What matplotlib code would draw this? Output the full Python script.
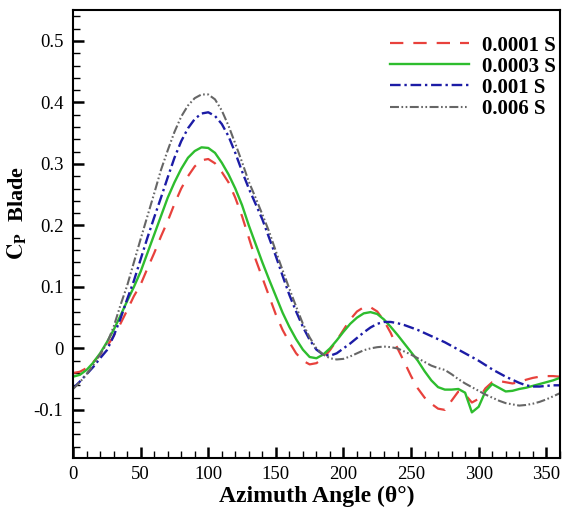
import numpy as np
import matplotlib
matplotlib.use("Agg")
import matplotlib.pyplot as plt
from matplotlib.ticker import MultipleLocator

plt.rcParams['font.family'] = ['Liberation Serif', 'DejaVu Serif']
plt.rcParams['mathtext.fontset'] = 'stix'

# azimuth angle (deg), every 5 degrees
theta = np.arange(0, 365, 5)

cp_0001 = [-0.040, -0.038, -0.032, -0.022, -0.010, 0.003, 0.020, 0.040, 0.062, 0.085,
           0.104, 0.130, 0.155, 0.182, 0.207, 0.235, 0.260, 0.280, 0.296, 0.306,
           0.308, 0.301, 0.287, 0.270, 0.245, 0.215, 0.180, 0.145, 0.115, 0.085,
           0.055, 0.030, 0.010, -0.008, -0.020, -0.026, -0.024, -0.016, -0.003, 0.013,
           0.030, 0.047, 0.060, 0.067, 0.067, 0.060, 0.045, 0.025, 0.000, -0.022,
           -0.045, -0.065, -0.080, -0.090, -0.098, -0.100, -0.085, -0.070, -0.075, -0.088,
           -0.082, -0.065, -0.055, -0.053, -0.055, -0.057, -0.055, -0.051, -0.048, -0.046,
           -0.045, -0.045, -0.046]

cp_0003 = [-0.046, -0.043, -0.035, -0.023, -0.008, 0.010, 0.030, 0.053, 0.077, 0.100,
           0.125, 0.155, 0.185, 0.215, 0.245, 0.270, 0.292, 0.310, 0.321, 0.327,
           0.326, 0.318, 0.302, 0.283, 0.260, 0.233, 0.200, 0.170, 0.140, 0.112,
           0.085, 0.058, 0.035, 0.015, -0.002, -0.014, -0.016, -0.010, 0.000, 0.013,
           0.027, 0.040, 0.050, 0.057, 0.059, 0.056, 0.047, 0.035, 0.022, 0.008,
           -0.006, -0.020, -0.037, -0.052, -0.063, -0.067, -0.067, -0.066, -0.072, -0.104,
           -0.095, -0.070, -0.058, -0.064, -0.070, -0.069, -0.066, -0.064, -0.061, -0.058,
           -0.055, -0.052, -0.048]

cp_001 = [-0.065, -0.054, -0.042, -0.030, -0.016, -0.003, 0.020, 0.048, 0.080, 0.110,
          0.145, 0.180, 0.213, 0.245, 0.278, 0.310, 0.337, 0.358, 0.373, 0.382,
          0.384, 0.378, 0.365, 0.345, 0.318, 0.288, 0.260, 0.235, 0.210, 0.180,
          0.150, 0.118, 0.087, 0.060, 0.035, 0.014, -0.002, -0.010, -0.012, -0.008,
          0.000, 0.008, 0.017, 0.026, 0.034, 0.040, 0.043, 0.043, 0.041, 0.038,
          0.034, 0.030, 0.025, 0.020, 0.015, 0.010, 0.004, -0.002, -0.008, -0.014,
          -0.020, -0.027, -0.034, -0.040, -0.046, -0.051, -0.056, -0.060, -0.062, -0.062,
          -0.061, -0.060, -0.060]

cp_006 = [-0.066, -0.055, -0.042, -0.027, -0.010, 0.008, 0.035, 0.070, 0.102, 0.140,
          0.178, 0.215, 0.252, 0.290, 0.322, 0.352, 0.377, 0.395, 0.407, 0.413,
          0.413, 0.405, 0.387, 0.362, 0.333, 0.303, 0.271, 0.245, 0.218, 0.190,
          0.158, 0.127, 0.097, 0.068, 0.040, 0.018, 0.000, -0.010, -0.016, -0.018,
          -0.017, -0.013, -0.008, -0.003, 0.000, 0.002, 0.003, 0.002, 0.000, -0.005,
          -0.010, -0.016, -0.022, -0.028, -0.032, -0.035, -0.042, -0.050, -0.057, -0.063,
          -0.069, -0.075, -0.080, -0.085, -0.089, -0.091, -0.093, -0.092, -0.090, -0.087,
          -0.083, -0.078, -0.073]

labels = ['0.0001 S', '0.0003 S', '0.001 S', '0.006 S']

fig = plt.figure(figsize=(5.62, 5.11), dpi=100)
ax = fig.add_axes([0.130, 0.104, 0.866, 0.876])

ax.plot(theta, cp_0001, color='#e8413c', lw=1.6, dashes=(6, 4.5), label=labels[0])
ax.plot(theta, cp_0003, color='#2ebd2e', lw=1.7, label=labels[1])
ax.plot(theta, cp_001, color='#1c1ca6', lw=1.7, dashes=(4.5, 1.6, 1.0, 1.6), label=labels[2])
ax.plot(theta, cp_006, color='#666666', lw=1.5,
        dashes=(4.3, 1.2, 0.8, 1.2, 0.8, 1.2), label=labels[3])

ax.set_xlim(0, 360)
ax.set_ylim(-0.178, 0.55)
ax.xaxis.set_major_locator(MultipleLocator(50))
ax.xaxis.set_minor_locator(MultipleLocator(10))
ax.yaxis.set_minor_locator(MultipleLocator(0.02))
ax.set_yticks([-0.1, 0, 0.1, 0.2, 0.3, 0.4, 0.5])
ax.set_yticklabels(['-0.1', '0', '0.1', '0.2', '0.3', '0.4', '0.5'])

ax.tick_params(which='both', direction='in', top=False, right=False, labelsize=13.5)
ax.tick_params(which='major', length=8, width=1.8)
ax.tick_params(axis='y', which='major', pad=7)
ax.tick_params(axis='x', which='major', pad=6)
ax.tick_params(which='minor', length=5, width=1.0)
for s in ax.spines.values():
    s.set_linewidth(1.5)

ax.set_xlabel('Azimuth Angle (θ°)', fontsize=17, fontweight='bold', labelpad=2)
ax.set_ylabel(r'$\mathbf{C_P}$  Blade', fontsize=16, fontweight='bold')
ax.yaxis.set_label_coords(-0.09, 0.547)

ax.legend(loc='upper right', frameon=False, handlelength=3.8, handletextpad=0.6,
          labelspacing=0.05, prop={'weight': 'bold', 'size': 15},
          bbox_to_anchor=(1.03, 0.985))

fig.savefig('out.png', dpi=100)
